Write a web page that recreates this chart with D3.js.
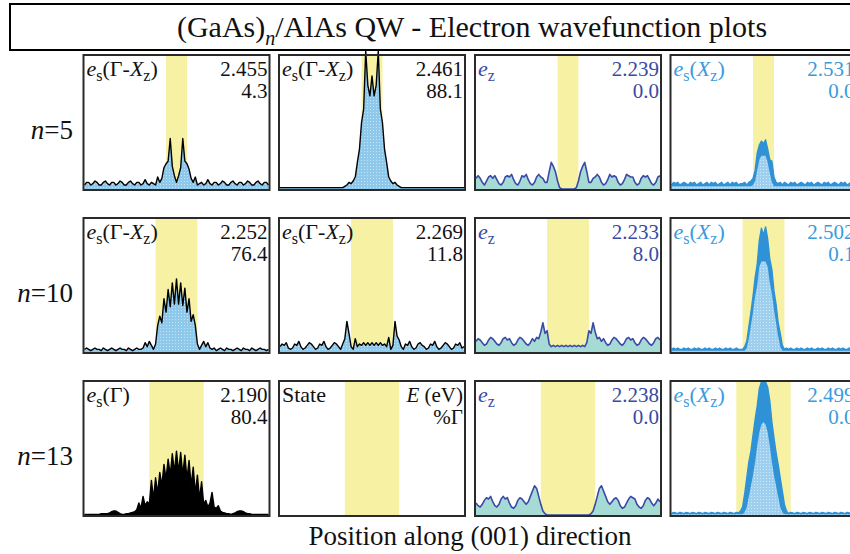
<!DOCTYPE html>
<html>
<head>
<meta charset="utf-8">
<script src="https://cdn.jsdelivr.net/npm/d3@7"></script>
<style>
  html, body { margin: 0; padding: 0; background: #fff; }
  svg { display: block; }
</style>
</head>
<body>
<svg id="chart" width="850" height="554" font-family="'Liberation Serif', 'Times New Roman', Tinos, 'DejaVu Serif', serif"></svg>
<script>
// Quantum-well widths (monolayers of GaAs) for each row
const wellWidths = [5, 10, 13];
const rowLabels = ["5", "10", "13"];

// State type shown in each panel, row by row
const stateKinds = [
  ["GX", "GX", "Z", "X"],
  ["GX", "GX", "Z", "X"],
  ["G", "legend", "Z", "X"]
];
// State energy (eV) and Gamma character (%)
const energies = [
  [2.455, 2.461, 2.239, 2.531],
  [2.252, 2.269, 2.233, 2.502],
  [2.190, null, 2.238, 2.499]
];
const gammaShares = [
  [4.3, 88.1, 0.0, 0.0],
  [76.4, 11.8, 8.0, 0.1],
  [80.4, null, 0.0, 0.0]
];

// |psi|^2 profiles (% of panel height), one sample every half monolayer from -22 to +22 ML
const psi5a = [3,5,5,3,4,6,5,3,3,5,6,4,3,5,5,3,4,6,5,3,3,5,6,4,3,5,5,3,4,7,4,3,5,4,
  3,9,5,8,16,19,21,38,17,10,5,10,16,38,21,19,15,8,5,9,3,
  4,5,3,4,7,4,3,5,5,3,4,6,5,3,3,5,6,4,3,5,5,3,4,6,5,3,3,5,6,4,3,5,5,3];
const psi5b = [1,1,1,1,1,1,1,1,1,1,1,1,1,1,1,1,1,1,1,1,1,1,1,1,1,1,1,1,1,1,1,2,3,5,
  4,6,9,20,30,50,60,104,78,70,85,70,78,104,60,50,30,20,9,6,4,
  5,3,2,1,1,1,1,1,1,1,1,1,1,1,1,1,1,1,1,1,1,1,1,1,1,1,1,1,1,1,1,1,1,1];
const psi5c = [8,10,8,5,3,6,9,10,8,10,7,4,3,5,9,10,9,11,7,4,3,6,10,9,11,7,4,3,5,9,11,9,8,5,
  5,13,20,17,13,6,1,0,0,0,0,0,0,0,1,6,13,17,20,13,5,
  5,8,9,11,9,5,3,4,7,11,9,10,9,5,3,4,7,11,10,9,9,5,3,4,8,10,9,10,7,4,3,5,9,10];
const psi5d = [3,5,4,5,3,4,5,4,3,5,4,5,3,4,5,3,4,5,3,5,4,5,3,4,5,3,4,5,3,5,4,5,3,4,
  4,5,3,5,6,8,14,27,33,36,34,37,30,22,21,9,5,4,5,3,5,
  4,3,5,4,5,3,4,5,4,3,5,4,5,3,4,5,4,3,5,4,5,3,4,5,4,3,5,4,5,3,4,5,4,3];
const core5d = [2,2,2,2,2,2,2,2,2,2,2,2,2,2,2,2,2,2,2,2,2,2,2,2,2,2,2,2,2,2,2,2,2,2,
  2,2,2,2,2,3,6,14,22,25,25,25,20,12,5,2,2,2,2,2,2,
  2,2,2,2,2,2,2,2,2,2,2,2,2,2,2,2,2,2,2,2,2,2,2,2,2,2,2,2,2,2,2,2,2,2];

const psi10a = [2,3,2,1,2,3,2,2,1,3,2,1,2,3,2,1,2,3,2,2,1,3,2,1,2,3,2,2,3,7,4,8,5,2,
  6,20,27,22,40,30,47,34,52,36,55,36,52,35,48,30,40,23,28,20,6,
  2,5,8,4,7,3,2,3,1,2,3,2,1,3,2,2,1,2,3,2,1,3,2,2,1,3,2,1,2,3,2,2,1,2];
const psi10b = [4,6,5,7,3,2,3,6,5,8,4,2,3,5,7,6,4,2,3,6,5,8,4,2,3,5,7,6,4,2,6,10,23,14,
  4,2,10,4,6,5,7,5,7,5,7,5,7,5,7,5,6,4,11,2,5,
  23,12,9,4,2,6,5,8,4,2,3,6,7,5,4,2,3,6,5,8,4,2,3,5,7,6,4,2,3,6,5,7,3,4];
const psi10c = [8,10,9,7,5,6,9,11,10,8,6,5,7,10,11,9,10,7,5,6,9,11,10,8,6,5,7,10,8,11,10,15,22,14,
  16,6,4,5,4,5,4,5,4,5,4,5,4,5,4,5,4,5,4,7,16,
  14,22,15,10,11,8,10,7,5,6,9,11,10,8,6,5,7,10,11,9,10,7,5,6,9,11,10,8,6,5,7,10,11,9];
const psi10d = [2,3,2,3,2,2,3,2,3,2,2,3,2,3,2,2,3,2,3,2,2,3,2,3,2,2,3,2,3,2,2,3,2,2,
  2,4,8,19,30,42,56,66,84,93,88,94,85,70,62,46,36,22,14,5,2,
  3,2,3,2,2,3,2,3,2,2,3,2,3,2,2,3,2,3,2,2,3,2,3,2,2,3,2,3,2,2,3,2,3,2];
const core10d = [1,1,1,1,1,1,1,1,1,1,1,1,1,1,1,1,1,1,1,1,1,1,1,1,1,1,1,1,1,1,1,1,1,1,
  1,1,3,10,20,30,42,50,64,68,68,68,64,52,44,32,22,12,4,1,1,
  1,1,1,1,1,1,1,1,1,1,1,1,1,1,1,1,1,1,1,1,1,1,1,1,1,1,1,1,1,1,1,1,1,1];

const psi13a = [0.5,0.5,0.5,0.5,0.5,0.5,0.5,0.5,1,1,1,1,1.5,2.5,3,3,2,1,0.5,0.5,1,1,1.5,2,2.5,4,9,5,14,7,10,8,26,12,
  28,16,32,22,38,27,42,30,46,32,48,32,47,30,45,27,41,22,36,16,30,
  12,25,8,11,6,9,17,6,5,7,3,2,1.5,1,1,0.5,1,1.5,2.5,3,3,2.5,1.5,1,1,0.5,0.5,0.5,0.5,0.5,0.5,0.5,0.5,0.5];
const psi13c = [9,7,6,8,11,13,12,14,10,7,6,8,12,14,12,13,9,6,5,7,11,13,12,10,8,10,14,18,22,20,14,8,3,1,
  0,0,0,0,0,0,0,0,0,0,0,0,0,0,0,0,0,0,0,0,0,
  1,3,8,14,20,22,18,14,10,8,10,12,13,11,7,5,6,9,12,14,13,12,8,6,5,7,11,13,12,9,7,9,12,10];
const psi13d = [1,2,1.5,1,2,1.5,1,2,1.5,1,2,1.5,1,2,1.5,1,2,1.5,1,2,1.5,1,2,1.5,1,2,1.5,1,2,1.5,1,2,1.5,3,
  6,16,28,40,48,60,72,82,95,100,100,100,96,86,70,58,47,38,28,18,8,
  3,1,2,1.5,1,2,1.5,1,2,1.5,1,2,1.5,1,2,1.5,1,2,1.5,1,2,1.5,1,2,1.5,1,2,1.5,1,2,1.5,1,2,1.5];
const core13d = [0.5,0.5,0.5,0.5,0.5,0.5,0.5,0.5,0.5,0.5,0.5,0.5,0.5,0.5,0.5,0.5,0.5,0.5,0.5,0.5,0.5,0.5,0.5,0.5,0.5,0.5,0.5,0.5,0.5,0.5,0.5,0.5,0.5,0.5,
  0.5,2,6,14,22,30,40,52,62,68,70,68,62,52,40,30,22,14,6,2,0.5,
  0.5,0.5,0.5,0.5,0.5,0.5,0.5,0.5,0.5,0.5,0.5,0.5,0.5,0.5,0.5,0.5,0.5,0.5,0.5,0.5,0.5,0.5,0.5,0.5,0.5,0.5,0.5,0.5,0.5,0.5,0.5,0.5,0.5,0.5];

const profiles = [
  [psi5a, psi5b, psi5c, psi5d],
  [psi10a, psi10b, psi10c, psi10d],
  [psi13a, null, psi13c, psi13d]
];
const cores = [
  [null, null, null, core5d],
  [null, null, null, core10d],
  [null, null, null, core13d]
];

// ---------- layout ----------
const svg = d3.select("#chart");
const colLeft = [83.5, 279, 475, 670.5];
const rowTop = [55, 218, 381];
const panelW = 186, panelH = 135;
const labelSize = 22, subSize = 16, valueSize = 21;

const styles = {
  GX: { line: "#000", fill: "url(#dotBlue)", text: "#111" },
  G: { line: "#000", fill: "#000", text: "#111" },
  Z: { line: "#3a4aa6", fill: "#a6dbd5", text: "#3a4aa6" },
  X: { line: "#2f92d6", fill: "#2f92d6", core: "url(#dotSky)", text: "#3a9bdc" },
  legend: { text: "#111" }
};

const defs = svg.append("defs");
function dotPattern(id, base, dot) {
  const p = defs.append("pattern").attr("id", id)
    .attr("width", 3).attr("height", 3).attr("patternUnits", "userSpaceOnUse");
  p.append("rect").attr("width", 3).attr("height", 3).attr("fill", base);
  p.append("rect").attr("x", 1).attr("y", 1).attr("width", 1).attr("height", 1).attr("fill", dot);
}
dotPattern("dotBlue", "#8ec8ea", "#c4e3f5");
dotPattern("dotSky", "#9fcfef", "#d2eaf8");

// title box
svg.append("rect").attr("x", 10).attr("y", 4).attr("width", 870).attr("height", 46)
  .attr("fill", "#fff").attr("stroke", "#000").attr("stroke-width", 2);
const title = svg.append("text").attr("x", 472).attr("y", 37)
  .attr("text-anchor", "middle").attr("font-size", 30).attr("fill", "#111");
title.append("tspan").text("(GaAs)");
title.append("tspan").attr("font-style", "italic").attr("font-size", 20).attr("dy", 8).text("n");
title.append("tspan").attr("dy", -8).text("/AlAs QW - Electron wavefunction plots");

// state name with italic symbols and subscripts
function stateName(g, kind, x, y, color) {
  const t = g.append("text").attr("x", x).attr("y", y).attr("font-size", labelSize).attr("fill", color);
  const sub = (s) => { t.append("tspan").attr("font-size", subSize).attr("dy", 5).text(s); };
  const up = (s) => t.append("tspan").attr("dy", -5).text(s);
  if (kind === "legend") { t.text("State"); return; }
  t.append("tspan").attr("font-style", "italic").text("e");
  if (kind === "Z") { sub("z"); return; }
  sub("s");
  if (kind === "G") { up("(\u0393)"); return; }
  if (kind === "GX") up("(\u0393-"); else up("(");
  t.append("tspan").attr("font-style", "italic").text("X");
  sub("z");
  up(")");
}

const fmtE = d3.format(".3f"), fmtG = d3.format(".1f");

rowTop.forEach((y0, r) => {
  // row label n=…
  const lab = svg.append("text").attr("x", 73).attr("y", y0 + 84)
    .attr("text-anchor", "end").attr("font-size", 27).attr("fill", "#111");
  lab.append("tspan").attr("font-style", "italic").text("n");
  lab.append("tspan").text("=" + rowLabels[r]);

  colLeft.forEach((x0, c) => {
    const kind = stateKinds[r][c];
    const st = styles[kind];
    const g = svg.append("g");
    const x = d3.scaleLinear().domain([-22, 22]).range([x0 + 1, x0 + panelW - 1]);
    const y = d3.scaleLinear().domain([0, 100]).range([y0 + panelH - 1, y0 + 1]);

    g.append("rect").attr("x", x0).attr("y", y0).attr("width", panelW).attr("height", panelH).attr("fill", "#fff");
    const n = wellWidths[r];
    g.append("rect").attr("x", x(-n / 2)).attr("y", y0 + 1)
      .attr("width", x(n / 2) - x(-n / 2)).attr("height", panelH - 2).attr("fill", "#f7f1a3");

    const vals = profiles[r][c];
    if (vals) {
      const pts = v => v.map((d, i) => [-22 + 44 * i / (v.length - 1), d]);
      const area = d3.area().x(d => x(d[0])).y0(y(0)).y1(d => y(d[1]));
      const line = d3.line().x(d => x(d[0])).y(d => y(d[1]));
      g.append("path").attr("d", area(pts(vals))).attr("fill", st.fill);
      const core = cores[r][c];
      if (core) g.append("path").attr("d", area(pts(core))).attr("fill", st.core);
      g.append("path").attr("d", line(pts(vals))).attr("fill", "none")
        .attr("stroke", st.line).attr("stroke-width", kind === "Z" ? 1.6 : 1.4)
        .attr("stroke-linejoin", "round");
    }

    g.append("rect").attr("x", x0).attr("y", y0).attr("width", panelW).attr("height", panelH)
      .attr("fill", "none").attr("stroke", "#2a2a2a").attr("stroke-width", 2);

    stateName(g, kind, x0 + 3, y0 + 21, st.text);
    const right = x0 + panelW - 2;
    if (kind === "legend") {
      const t1 = g.append("text").attr("x", right).attr("y", y0 + 21).attr("text-anchor", "end")
        .attr("font-size", valueSize).attr("fill", st.text);
      t1.append("tspan").attr("font-style", "italic").text("E");
      t1.append("tspan").text(" (eV)");
      g.append("text").attr("x", right).attr("y", y0 + 43).attr("text-anchor", "end")
        .attr("font-size", valueSize).attr("fill", st.text).text("%\u0393");
    } else {
      g.append("text").attr("x", right).attr("y", y0 + 21).attr("text-anchor", "end")
        .attr("font-size", valueSize).attr("fill", st.text).text(fmtE(energies[r][c]));
      g.append("text").attr("x", right).attr("y", y0 + 43).attr("text-anchor", "end")
        .attr("font-size", valueSize).attr("fill", st.text).text(fmtG(gammaShares[r][c]));
    }
  });
});

// axis caption
svg.append("text").attr("x", 470).attr("y", 545).attr("text-anchor", "middle")
  .attr("font-size", 27).attr("fill", "#111").text("Position along (001) direction");
</script>
</body>
</html>
